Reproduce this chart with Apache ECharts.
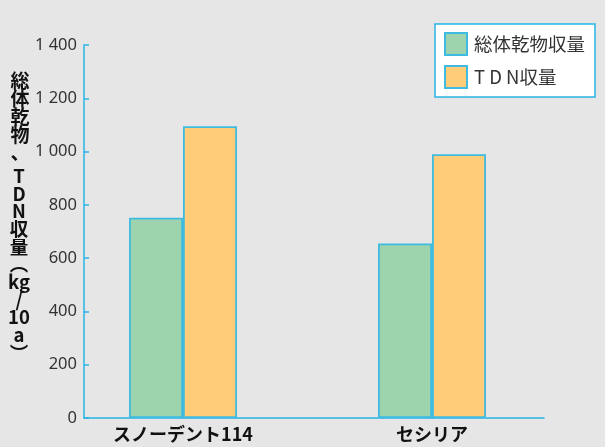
<!DOCTYPE html>
<html>
<head>
<meta charset="utf-8">
<script src="https://cdn.jsdelivr.net/npm/echarts@6/dist/echarts.min.js"></script>
<style>
  html, body { margin: 0; padding: 0; background: #e6e6e6; }
  #chart { width: 605px; height: 447px; }
</style>
</head>
<body>
<div id="chart"></div>
<script>
// Varieties and yields (kg/10a)
const categories = ['スノーデント114', 'セシリア'];
const seriesNames = ['総体乾物収量', 'T D N収量'];
const dryMatter = [752, 655];
const tdnYield = [1095, 990];
const yTickLabels = ['0', '200', '400', '600', '800', '1 000', '1 200', '1 400'];
// Vertical axis title, written top to bottom in two runs
const yTitleHead = ['総', '体', '乾', '物', '、'];
const yTitleTail = ['T', 'D', 'N', '収', '量', '︵', 'kg', '/', '10', 'a', '︶'];

const AXIS = '#27b4e6';
const EDGE = '#3fbbe2';
const FONT = '"Noto Sans", "Noto Sans CJK JP", sans-serif';
const CJK = '"Noto Sans CJK JP", sans-serif';

const chart = echarts.init(document.getElementById('chart'));
chart.setOption({
  backgroundColor: '#e6e6e6',
  animation: false,
  grid: [
    { left: 84, top: 45, width: 460, bottom: 29 },
    { left: 58.5, top: 45, width: 498, bottom: 29 }
  ],
  xAxis: [
    {
      gridIndex: 0, type: 'category', data: categories,
      axisLine: { lineStyle: { color: AXIS, width: 1.5 } },
      axisTick: { show: false }, axisLabel: { show: false }
    },
    {
      gridIndex: 1, type: 'category', data: categories,
      axisLine: { show: false }, axisTick: { show: false },
      axisLabel: { color: '#111', fontSize: 18, fontWeight: 'bold', fontFamily: CJK, margin: 7 }
    }
  ],
  yAxis: [
    {
      gridIndex: 0, type: 'value', min: 0, max: 1400, interval: 200,
      axisLine: { show: true, lineStyle: { color: AXIS, width: 1.5 } },
      axisTick: { show: true, inside: true, length: 5, lineStyle: { color: AXIS, width: 1.5 } },
      splitLine: { show: false },
      axisLabel: {
        color: '#333', fontSize: 16.5, fontFamily: FONT, margin: 7,
        formatter: v => yTickLabels[Math.round(v / 200)]
      }
    },
    {
      gridIndex: 1, type: 'value', min: 0, max: 1400, interval: 200, show: false
    }
  ],
  legend: {
    left: 435, top: 24,
    orient: 'vertical',
    icon: 'rect',
    backgroundColor: '#ffffff',
    borderColor: AXIS, borderWidth: 1.5,
    padding: [8, 10, 8, 9],
    itemWidth: 22, itemHeight: 22, itemGap: 9,
    textStyle: { color: '#333', fontSize: 18.5, fontFamily: CJK, padding: [0, 0, 0, 2] },
    data: seriesNames
  },
  graphic: [
    {
      type: 'text', x: 20, y: 72,
      style: {
        text: yTitleHead.join('\n'),
        fill: '#111', font: 'bold 19px ' + CJK,
        lineHeight: 18, align: 'center', verticalAlign: 'top'
      }
    },
    {
      type: 'text', x: 19, y: 167,
      style: {
        text: yTitleTail.join('\n'),
        fill: '#111', font: 'bold 18.5px ' + CJK,
        lineHeight: 17.7, align: 'center', verticalAlign: 'top'
      }
    }
  ],
  series: [
    {
      name: seriesNames[0], type: 'bar', xAxisIndex: 1, yAxisIndex: 1,
      data: dryMatter, barWidth: 54, barGap: '0%',
      itemStyle: { color: '#9dd4ae', borderColor: EDGE, borderWidth: 1.8 }
    },
    {
      name: seriesNames[1], type: 'bar', xAxisIndex: 1, yAxisIndex: 1,
      data: tdnYield, barWidth: 54, barGap: '0%',
      itemStyle: { color: '#ffcc7a', borderColor: EDGE, borderWidth: 1.8 }
    }
  ]
});
</script>
</body>
</html>
